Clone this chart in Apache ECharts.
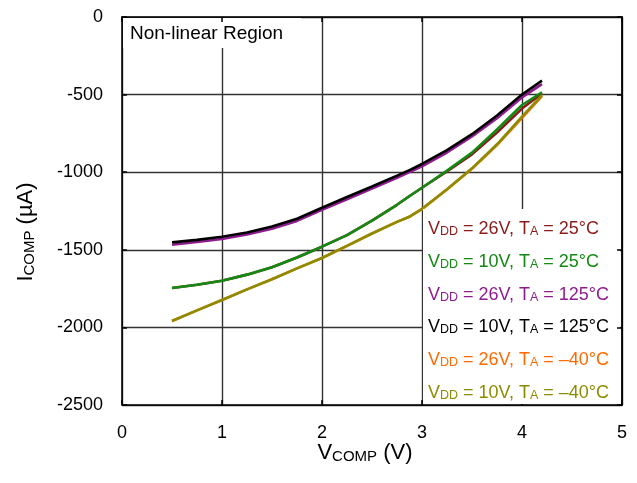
<!DOCTYPE html>
<html>
<head>
<meta charset="utf-8">
<script src="https://cdn.jsdelivr.net/npm/echarts@6/dist/echarts.min.js"></script>
<style>
html,body{margin:0;padding:0;background:#fff;overflow:hidden;}
#chart{width:637px;height:483px;}
</style>
</head>
<body>
<div id="chart"></div>
<script>
// V_COMP (V)
const vcomp = [0.5, 0.75, 1.0, 1.25, 1.5, 1.75, 2.0, 2.25, 2.5, 2.75, 2.88, 3.0, 3.25, 3.5, 3.75, 4.0, 4.2];
// I_COMP (µA) per condition
const i26v25c  = [-1746, -1725, -1700, -1660, -1612, -1550, -1480, -1405, -1312, -1210, -1152, -1100, -995, -885, -745, -590, -492];
const i10v25c  = [-1746, -1725, -1700, -1660, -1612, -1550, -1480, -1405, -1312, -1210, -1152, -1100, -990, -874, -725, -567, -485];
const i26v125c = [-1467, -1450, -1430, -1402, -1365, -1314, -1243, -1174, -1106, -1036, -998, -962, -873, -770, -652, -518, -432];
const i10v125c = [-1452, -1436, -1416, -1388, -1350, -1300, -1229, -1160, -1092, -1022, -985, -947, -858, -755, -635, -500, -410];
const i26vm40c = [-1959, -1890, -1823, -1755, -1690, -1620, -1553, -1475, -1395, -1320, -1285, -1238, -1112, -978, -825, -650, -510];
const i10vm40c = [-1959, -1890, -1823, -1755, -1690, -1620, -1553, -1475, -1395, -1320, -1285, -1236, -1110, -975, -820, -642, -503];

const xTicks = [0, 1, 2, 3, 4, 5];
const yTicks = [0, -500, -1000, -1500, -2000, -2500];

const seriesNames = [
  'VDD = 26V, TA = 25°C',
  'VDD = 10V, TA = 25°C',
  'VDD = 26V, TA = 125°C',
  'VDD = 10V, TA = 125°C',
  'VDD = 26V, TA = –40°C',
  'VDD = 10V, TA = –40°C'
];
const legendV = ['26V', '10V', '26V', '10V', '26V', '10V'];
const legendT = ['25°C', '25°C', '125°C', '125°C', '–40°C', '–40°C'];
const seriesValues = [i26v25c, i10v25c, i26v125c, i10v125c, i26vm40c, i10vm40c];
const colors = ['#8b1a1a', '#138a13', '#8e1c8e', '#000000', '#ff6a00', '#8c8c00'];

const FONT = 'Liberation Sans, Arial, Helvetica, sans-serif';

const chart = echarts.init(document.getElementById('chart'), null, {renderer: 'canvas'});

const series = seriesValues.map((vals, k) => ({
  name: seriesNames[k],
  type: 'line',
  xAxisIndex: 0,
  yAxisIndex: 0,
  data: vcomp.map((x, i) => [x, vals[i]]),
  showSymbol: false,
  smooth: false,
  z: 3,
  lineStyle: {color: colors[k], width: 2.6},
  itemStyle: {color: colors[k]},
  animation: false
}));

function subRich(size, subSize, color, pad) {
  return {
    m: {fontSize: size, lineHeight: size, verticalAlign: 'top', color: color, fontFamily: FONT},
    s: {fontSize: subSize, lineHeight: subSize, verticalAlign: 'bottom', padding: [pad, 0, 0, 0], color: color, fontFamily: FONT}
  };
}

const legendTop = 219;
const legendStep = 32.8;
const legendTexts = seriesNames.map((n, k) => ({
  type: 'text',
  z: 20,
  left: 428,
  top: legendTop + k * legendStep,
  style: {
    text: '{m|V}{s|DD}{m| = ' + legendV[k] + ', T}{s|A}{m| = ' + legendT[k] + '}',
    rich: subRich(18, 12.5, colors[k], 6),
    fill: colors[k]
  }
}));

function frameLine(w, c) { return {show: true, onZero: false, lineStyle: {color: c || '#000', width: w || 1.5}}; }
function frameTick() { return {show: true, inside: true, length: 5, lineStyle: {color: '#000', width: 1.5}}; }

const option = {
  animation: false,
  backgroundColor: '#fff',
  grid: {left: 122, right: 15, top: 17, bottom: 78, containLabel: false},
  xAxis: [
    {
      type: 'value', min: 0, max: 5, interval: 1, position: 'bottom', z: 0,
      axisLine: frameLine(),
      axisTick: frameTick(),
      axisLabel: {
        margin: 19, fontSize: 18, color: '#000', fontFamily: FONT,
        formatter: v => (xTicks.indexOf(v) >= 0 ? String(v) : '')
      },
      splitLine: {show: true, showMinLine: true, showMaxLine: true, lineStyle: {color: '#333', width: 1.4}},
      name: '{m|V}{s|COMP}{m| (V)}',
      nameLocation: 'middle',
      nameGap: 37,
      nameMoveOverlap: false,
      nameTextStyle: {rich: subRich(22, 15, '#000', 10), padding: [0, 14, 0, 0]}
    },
    {type: 'value', min: 0, max: 5, interval: 1, position: 'top', z: 10,
      axisLine: frameLine(), axisTick: frameTick(), axisLabel: {show: false}, splitLine: {show: false}}
  ],
  yAxis: [
    {
      type: 'value', min: -2500, max: 0, interval: 500, position: 'left', z: 0,
      axisLine: frameLine(),
      axisTick: frameTick(),
      axisLabel: {
        margin: 19, fontSize: 18, color: '#000', fontFamily: FONT,
        formatter: v => (yTicks.indexOf(v) >= 0 ? String(v) : '')
      },
      splitLine: {show: true, showMinLine: true, showMaxLine: true, lineStyle: {color: '#333', width: 1.4}},
      name: '{m|I}{s|COMP}{m| (µA)}',
      nameLocation: 'middle',
      nameGap: 85,
      nameRotate: 90,
      nameMoveOverlap: false,
      nameTextStyle: {rich: subRich(22, 15, '#000', 10), padding: [0, 42, 0, 0]}
    },
    {type: 'value', min: -2500, max: 0, interval: 500, position: 'right', z: 10,
      axisLine: frameLine(1.8), axisTick: frameTick(), axisLabel: {show: false}, splitLine: {show: false}}
  ],
  graphic: [
    {type: 'rect', z: 5, shape: {x: 123, y: 18, width: 178, height: 30}, style: {fill: '#fff'}},
    {type: 'text', z: 6, left: 130, top: 24, style: {text: 'Non-linear Region', fill: '#000', fontSize: 19, fontFamily: FONT}},
    {type: 'rect', z: 5, shape: {x: 423, y: 209, width: 197, height: 195}, style: {fill: '#fff'}}
  ].concat(legendTexts),
  series: series
};

chart.setOption(option);
</script>
</body>
</html>
